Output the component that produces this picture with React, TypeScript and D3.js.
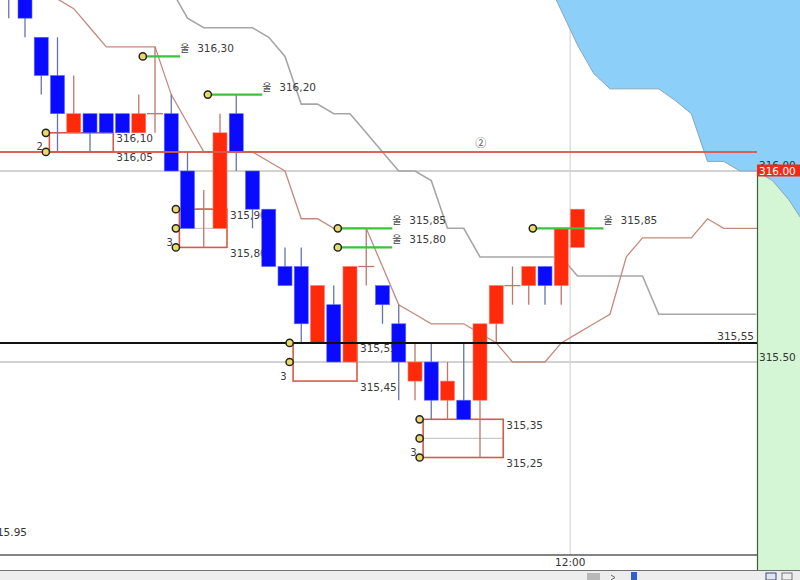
import React from 'react';
import * as d3 from 'd3';

// ---- candle data (index 0..35), prices ----
const candleOpen = [316.55, 316.50, 316.35, 316.25, 316.10, 316.15, 316.15, 316.15, 316.10, 316.15, 316.15, 316.00, 315.90, 315.85, 316.15, 316.00, 315.90, 315.75, 315.75, 315.55, 315.65, 315.50, 315.75, 315.70, 315.60, 315.45, 315.50, 315.40, 315.40, 315.40, 315.60, 315.70, 315.70, 315.75, 315.70, 315.80];
const candleClose = [316.50, 316.40, 316.25, 316.15, 316.15, 316.10, 316.10, 316.10, 316.15, 316.15, 316.00, 315.85, 315.90, 316.10, 316.05, 315.90, 315.75, 315.70, 315.60, 315.70, 315.50, 315.75, 315.75, 315.65, 315.50, 315.50, 315.40, 315.45, 315.35, 315.60, 315.70, 315.70, 315.75, 315.70, 315.85, 315.90];
const candleHigh = [316.55, 316.50, 316.35, 316.35, 316.25, 316.15, 316.15, 316.15, 316.20, 316.325, 316.20, 316.05, 315.95, 316.15, 316.20, 316.00, 315.90, 315.80, 315.80, 315.70, 315.70, 315.75, 315.85, 315.70, 315.65, 315.55, 315.55, 315.50, 315.55, 315.60, 315.70, 315.75, 315.75, 315.75, 315.85, 315.90];
const candleLow = [316.40, 316.35, 316.20, 316.05, 316.10, 316.05, 316.10, 316.10, 316.10, 316.10, 316.00, 315.85, 315.80, 315.85, 316.00, 315.85, 315.75, 315.70, 315.55, 315.55, 315.50, 315.50, 315.70, 315.60, 315.40, 315.40, 315.35, 315.35, 315.35, 315.25, 315.55, 315.65, 315.65, 315.65, 315.65, 315.80];

// ---- indicator lines ----
const grayLineStart = 9;
const grayLine = [316.55, 316.475, 316.40, 316.375, 316.375, 316.375, 316.375, 316.35, 316.30, 316.175, 316.175, 316.15, 316.15, 316.10, 316.05, 316.00, 316.00, 315.975, 315.85, 315.85, 315.775, 315.775, 315.775, 315.775, 315.775, 315.775, 315.725, 315.725, 315.725, 315.725, 315.725, 315.625, 315.625, 315.625, 315.625, 315.625, 315.625, 315.625];
const brownLineStart = 2;
const brownLine = [316.525, 316.45, 316.425, 316.375, 316.325, 316.325, 316.325, 316.325, 316.20, 316.125, 316.05, 316.05, 316.05, 316.05, 316.025, 316.00, 315.875, 315.875, 315.85, 315.85, 315.85, 315.75, 315.65, 315.625, 315.60, 315.60, 315.60, 315.575, 315.55, 315.50, 315.50, 315.50, 315.55, 315.575, 315.60, 315.625, 315.775, 315.825, 315.825, 315.825, 315.825, 315.875, 315.85, 315.85, 315.85, 315.85];
const cloudStart = 33;
const cloudEdge = [316.51, 316.42, 316.33, 316.255, 316.215, 316.215, 316.215, 316.215, 316.185, 316.15, 316.025, 316.025, 316.00, 316.00, 315.975, 315.925, 315.86];

// ---- annotations ----
const boxFirst = [3, 11, 18, 26];
const boxLast = [6, 13, 21, 30];
const boxTop = [316.10, 315.90, 315.55, 315.35];
const boxBottom = [316.05, 315.80, 315.45, 315.25];
const boxMid = [null, 315.85, null, 315.30];
const boxDots = [[316.10, 316.05], [315.90, 315.85, 315.80], [315.55, 315.50], [315.35, 315.30, 315.25]];
const boxCount = ['2', '3', '3', '3'];
const boxTopLabel = ['316,10', '315,90', '315,55', '315,35'];
const boxBottomLabel = ['316,05', '315,80', '315,45', '315,25'];

const targetFrom = [8.25, 12.25, 20.25, 20.25, 32.25];
const targetTo = [10.55, 15.6, 23.6, 23.6, 36.6];
const targetPrice = [316.30, 316.20, 315.85, 315.80, 315.85];
const targetLabel = ['316,30', '316,20', '315,85', '315,80', '315,85'];

const redLevel = 316.05;
const blackLevel = 315.55;
const gridLevels = [316.00, 315.50];
const timeTickIndex = 34.55;
const timeTickLabel = '12:00';

const FONT = 'DejaVu Sans, sans-serif';
const CJK = '"Noto Sans CJK KR", sans-serif';

export default function App() {
  const x = d3.scaleLinear().domain([0, 46]).range([8.75, 756.25]);
  const y = d3.scaleLinear().domain([315.5, 316.0]).range([362, 171]);
  const step = x(1) - x(0);
  const half = 7;
  const plotRight = 757;
  const axisY = 555;
  const bottomY = 570;

  const gray = d3.line<number>().x((_, k) => x(grayLineStart + k)).y(d => y(d))(grayLine) || '';
  const brown = d3.line<number>().x((_, k) => x(brownLineStart + k)).y(d => y(d))(brownLine) || '';
  const cloudArea = d3.area<number>().x((_, k) => x(cloudStart + k)).y0(y(316.7)).y1(d => y(d))(cloudEdge) || '';
  const cloudLine = d3.line<number>().x((_, k) => x(cloudStart + k)).y(d => y(d))(cloudEdge) || '';

  const RED = '#ff2a0a';
  const BLUE = '#0a0aff';
  const RED_WICK = '#bd7668';
  const BLUE_WICK = '#6874a8';
  const BOX = '#d65a48';

  return (
    <svg width={800} height={580} style={{ position: 'fixed', left: 0, top: 0, background: '#fff' }}>
      <defs>
        <clipPath id="plotClip"><rect x={0} y={0} width={plotRight} height={axisY} /></clipPath>
      </defs>
      <rect x={0} y={0} width={800} height={580} fill="#fff" />
      {/* price panel background */}
      <rect x={plotRight} y={172} width={800 - plotRight} height={bottomY - 172} fill="#d4f6d4" />
      {/* grid */}
      <line x1={x(timeTickIndex)} x2={x(timeTickIndex)} y1={0} y2={axisY} stroke="#dedede" strokeWidth={1.5} />
      {gridLevels.map((g, k) => (
        <line key={k} x1={0} x2={plotRight} y1={y(g)} y2={y(g)} stroke="#d2d2d2" strokeWidth={1.8} />
      ))}
      {/* cloud */}
      <path d={cloudArea} fill="#8ccff8" />
      <path d={cloudLine} fill="none" stroke="#8aa6b8" strokeWidth={1} />
      {/* indicator lines */}
      <g clipPath="url(#plotClip)">
        <path d={gray} fill="none" stroke="#a6a6a6" strokeWidth={1.6} />
        <path d={brown} fill="none" stroke="#c48a7c" strokeWidth={1.3} />
      </g>
      {/* box level labels */}
      {boxFirst.map((f, k) => {
        const right = x(boxLast[k]) + half;
        return (
          <g key={k} fontFamily={FONT} fontSize={10.5} fill="#3a3a3a">
            <text x={right + 3} y={y(boxTop[k]) + 9.5}>{boxTopLabel[k]}</text>
            <text x={right + 3} y={y(boxBottom[k]) + 9.5}>{boxBottomLabel[k]}</text>
          </g>
        );
      })}
      {/* boxes */}
      {boxFirst.map((f, k) => {
        const left = x(f) - step / 2;
        const right = x(boxLast[k]) + half;
        const mid = boxMid[k];
        return (
          <g key={k}>
            {mid !== null && <line x1={left} x2={right} y1={y(mid)} y2={y(mid)} stroke="#c9c9c9" strokeWidth={1.2} />}
            <rect x={left} y={y(boxTop[k])} width={right - left} height={y(boxBottom[k]) - y(boxTop[k])} fill="none" stroke={BOX} strokeWidth={1.6} />
          </g>
        );
      })}
      {/* candles */}
      {candleOpen.map((o, i) => {
        const c = candleClose[i];
        const cx = x(i);
        const up = c > o;
        const doji = c === o;
        const wick = doji || up ? RED_WICK : BLUE_WICK;
        return (
          <g key={i}>
            <line x1={cx} x2={cx} y1={y(candleHigh[i])} y2={y(candleLow[i])} stroke={wick} strokeWidth={1.3} />
            {doji ? (
              <line x1={cx - 8} x2={cx + 8} y1={y(o)} y2={y(o)} stroke={RED_WICK} strokeWidth={1.3} />
            ) : (
              <rect x={cx - half} y={y(Math.max(o, c))} width={half * 2} height={Math.abs(y(o) - y(c))}
                fill={up ? RED : BLUE} stroke={up ? '#ff7a6a' : '#5a6aff'} strokeWidth={0.6} />
            )}
          </g>
        );
      })}
      {/* horizontal levels */}
      <line x1={0} x2={plotRight} y1={y(redLevel)} y2={y(redLevel)} stroke="#d9584a" strokeWidth={2} opacity={0.92} />
      <line x1={0} x2={plotRight} y1={y(blackLevel)} y2={y(blackLevel)} stroke="#111" strokeWidth={2} />
      <text x={754} y={y(blackLevel) - 3} textAnchor="end" fontFamily={FONT} fontSize={10.5} fill="#3a3a3a">315,55</text>
      <text x={x(29.05)} y={y(316.05) - 5} textAnchor="middle" fontFamily={CJK} fontSize={11} fill="#555">②</text>
      {/* target lines */}
      {targetPrice.map((p, k) => {
        const x0 = x(targetFrom[k]);
        const x1 = x(targetTo[k]);
        const yy = y(p);
        return (
          <g key={k}>
            <line x1={x0} x2={x1} y1={yy} y2={yy} stroke="#3cc23c" strokeWidth={2.2} />
            <circle cx={x0} cy={yy} r={3.6} fill="#e9da6a" stroke="#222" strokeWidth={1.5} />
            <text x={x1} y={yy - 4} fontFamily={CJK} fontSize={10} fill="#444">울</text>
            <text x={x1 + 17} y={yy - 4} fontFamily={FONT} fontSize={10.5} fill="#3a3a3a">{targetLabel[k]}</text>
          </g>
        );
      })}
      {/* box dots and counts */}
      {boxFirst.map((f, k) => {
        const left = x(f) - step / 2;
        const dx = left - 3.5;
        return (
          <g key={k}>
            {boxDots[k].map((d, j) => (
              <circle key={j} cx={dx} cy={y(d)} r={3.6} fill="#e9da6a" stroke="#222" strokeWidth={1.5} />
            ))}
            <text x={dx - 3} y={y(boxBottom[k]) - 1.5} textAnchor="end" fontFamily={FONT} fontSize={10} fill="#3a3a3a">{boxCount[k]}</text>
          </g>
        );
      })}
      {/* price panel */}
      <line x1={plotRight + 0.5} x2={plotRight + 0.5} y1={172} y2={bottomY} stroke="#3f5f3f" strokeWidth={1.2} />
      <text x={759} y={169} fontFamily={FONT} fontSize={10.5} fill="#333">316.00</text>
      <rect x={plotRight} y={164.5} width={800 - plotRight} height={12} fill="#f02a18" />
      <text x={759} y={174.5} fontFamily={FONT} fontSize={10.5} fill="#fff">316.00</text>
      <text x={759} y={y(315.5) - 1.5} fontFamily={FONT} fontSize={10.5} fill="#333">315.50</text>
      {/* time axis */}
      <line x1={0} x2={plotRight} y1={axisY} y2={axisY} stroke="#5a5a5a" strokeWidth={1.5} />
      <text x={x(timeTickIndex)} y={566} textAnchor="middle" fontFamily={FONT} fontSize={10.5} fill="#333">{timeTickLabel}</text>
      <text x={27} y={536} textAnchor="end" fontFamily={FONT} fontSize={10.5} fill="#333">315.95</text>
      {/* bottom scrollbar */}
      <rect x={0} y={bottomY} width={800} height={10} fill="#ededed" />
      <line x1={0} x2={800} y1={bottomY + 0.5} y2={bottomY + 0.5} stroke="#707070" strokeWidth={1.2} />
      <rect x={587} y={573} width={13} height={7} fill="#b8b8b8" />
      <path d="M611,575 L615,577.5 L611,580" fill="none" stroke="#666" strokeWidth={1} />
      <rect x={631} y={572} width={6} height={8} fill="#2f62c8" />
      <rect x={766} y={573} width={10} height={7} fill="#dfe4ee" stroke="#3a4a7a" strokeWidth={1} />
      <rect x={782} y={573} width={10} height={7} fill="#eeeeee" stroke="#777" strokeWidth={1} />
    </svg>
  );
}
